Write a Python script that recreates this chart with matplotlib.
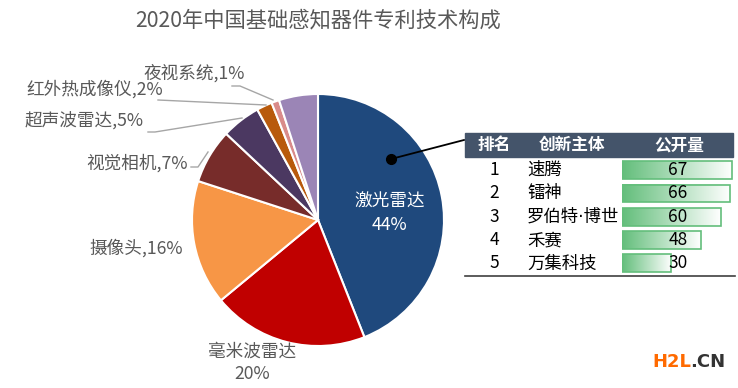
import matplotlib
matplotlib.use("Agg")
import matplotlib.pyplot as plt
import numpy as np
from matplotlib.colors import LinearSegmentedColormap
from matplotlib.patches import Rectangle

plt.rcParams['font.family'] = ['Noto Sans CJK SC', 'DejaVu Sans']

# 饼图数据
parts = ["激光雷达", "毫米波雷达", "摄像头", "视觉相机", "超声波雷达", "红外热成像仪", "夜视系统", "其他"]
shares = [44, 20, 16, 7, 5, 2, 1, 5]
colors = ["#1F497D", "#C00000", "#F79646", "#772C2A", "#4B3861", "#B85A0C", "#D98B8A", "#9B85B6"]

# 表格数据
ranks = ["1", "2", "3", "4", "5"]
names = ["速腾", "镭神", "罗伯特·博世", "禾赛", "万集科技"]
counts = [67, 66, 60, 48, 30]

W, H = 738, 388
fig = plt.figure(figsize=(W / 100, H / 100), dpi=100)

# 饼图
cx, cy, r = 318, 220, 126
axp = fig.add_axes([(cx - r) / W, (H - cy - r) / H, 2 * r / W, 2 * r / H])
axp.pie(shares, colors=colors, startangle=90, counterclock=False,
        wedgeprops=dict(edgecolor="white", linewidth=1.5))
axp.set_xlim(-1, 1)
axp.set_ylim(-1, 1)
axp.axis("off")

# 数据条
row_top, row_h = 158.5, 23.3
bx0 = 622
px_per = 1.642
xmax = 70
axb = fig.add_axes([bx0 / W, (H - row_top - row_h * 5) / H, xmax * px_per / W, row_h * 5 / H])
cmap = LinearSegmentedColormap.from_list("g", ["#63BE7B", "#FFFFFF"])
grad = np.linspace(0, 1, 256).reshape(1, -1)
for i, v in enumerate(counts):
    axb.imshow(grad, cmap=cmap, aspect="auto", extent=(0, v, i + 0.38, i - 0.38), zorder=1)
    axb.add_patch(Rectangle((0, i - 0.38), v, 0.76, fill=False, edgecolor="#63BE7B", lw=1.2, zorder=2))
    axb.text(34, i, str(v), fontsize=12.5, color="black", ha="center", va="center", zorder=3)
axb.set_xlim(0, xmax)
axb.set_ylim(len(counts) - 0.5, -0.5)
axb.axis("off")

# 全图像素坐标层（放在最上面）
ax0 = fig.add_axes([0, 0, 1, 1])
ax0.set_xlim(0, W)
ax0.set_ylim(H, 0)
ax0.axis("off")
ax0.patch.set_alpha(0)

gray = "#595959"
ax0.text(318, 20, "2020年中国基础感知器件专利技术构成", fontsize=15.3, color=gray,
         ha="center", va="center")

# 饼图标签
fs = 12.7
ax0.text(390, 202, "激光雷达", fontsize=fs, color="white", ha="center", va="center")
ax0.text(390, 225, "44%", fontsize=fs, color="white", ha="center", va="center")
ax0.text(252, 352, "毫米波雷达", fontsize=fs, color=gray, ha="center", va="center")
ax0.text(252, 374, "20%", fontsize=fs, color=gray, ha="center", va="center")
ax0.text(183, 248, "摄像头,16%", fontsize=fs, color=gray, ha="right", va="center")
ax0.text(188, 163, "视觉相机,7%", fontsize=fs, color=gray, ha="right", va="center")
ax0.text(144, 121, "超声波雷达,5%", fontsize=fs, color=gray, ha="right", va="center")
ax0.text(163, 89, "红外热成像仪,2%", fontsize=fs, color=gray, ha="right", va="center")
ax0.text(245, 73, "夜视系统,1%", fontsize=fs, color=gray, ha="right", va="center")

lc = "#A6A6A6"
ax0.plot([191, 198, 208], [167, 167, 152], color=lc, lw=1)
ax0.plot([148, 155, 242], [132, 132, 118], color=lc, lw=1)
ax0.plot([158, 266], [100, 105], color=lc, lw=1)
ax0.plot([232, 240, 273], [86, 86, 100], color=lc, lw=1)

# 指向表格的线
ax0.plot([391, 464], [159, 140], color="black", lw=1.3)
ax0.plot(391, 159, "o", color="black", ms=7)

# 表头
ax0.add_patch(Rectangle((465, 133), 268, 24, color="#44546A", zorder=2))
ax0.text(494, 145, "排名", fontsize=12, color="white", weight="bold", ha="center", va="center", zorder=3)
ax0.text(572, 145, "创新主体", fontsize=12, color="white", weight="bold", ha="center", va="center", zorder=3)
ax0.text(679, 145, "公开量", fontsize=12, color="white", weight="bold", ha="center", va="center", zorder=3)
ax0.plot([465, 735], [276, 276], color="#404040", lw=1.2)

for i in range(len(ranks)):
    y = row_top + row_h * (i + 0.5)
    ax0.text(494, y, ranks[i], fontsize=12.5, color="black", ha="center", va="center")
    ax0.text(527, y, names[i], fontsize=12.5, color="black", ha="left", va="center",
             family=["DejaVu Sans", "Noto Sans CJK SC"])

# 水印
ax0.text(652, 362, "H2L", fontsize=13, color="#FF6A00", weight="bold", ha="left", va="center",
         family="DejaVu Sans")
ax0.text(690, 362, ".CN", fontsize=13, color="#333333", weight="bold", ha="left", va="center",
         family="DejaVu Sans")

fig.savefig("out.png", dpi=100)
